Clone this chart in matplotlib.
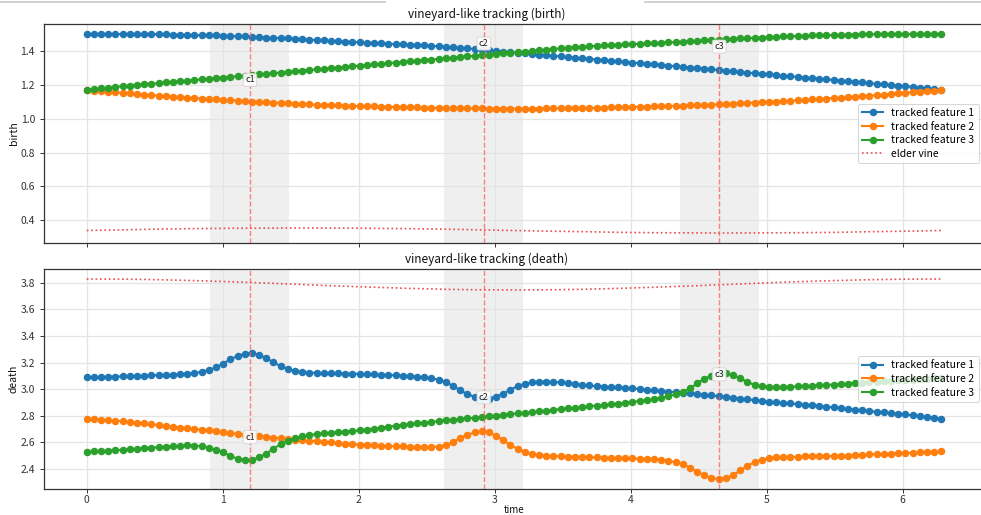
import numpy as np
import matplotlib
matplotlib.use("Agg")
import matplotlib.pyplot as plt
from matplotlib.lines import Line2D

plt.rcParams['font.family'] = ['Noto Sans CJK JP', 'DejaVu Sans']

# ---- data -------------------------------------------------------------
time = np.linspace(0, 2 * np.pi, 120)
elder_time = np.linspace(0, 2 * np.pi, 25)

birth_f1 = [1.500, 1.500, 1.500, 1.499, 1.499, 1.499, 1.499, 1.499, 1.498, 1.498,
            1.498, 1.497, 1.496, 1.495, 1.494, 1.493, 1.492, 1.492, 1.491, 1.490,
            1.488, 1.486, 1.485, 1.483, 1.481, 1.479, 1.477, 1.476, 1.474, 1.472,
            1.469, 1.467, 1.464, 1.462, 1.459, 1.457, 1.455, 1.452, 1.450, 1.448,
            1.446, 1.444, 1.442, 1.440, 1.438, 1.436, 1.435, 1.433, 1.430, 1.427,
            1.424, 1.421, 1.418, 1.415, 1.411, 1.407, 1.404, 1.400, 1.396, 1.392,
            1.388, 1.385, 1.381, 1.378, 1.374, 1.371, 1.367, 1.363, 1.360, 1.356,
            1.353, 1.349, 1.346, 1.342, 1.338, 1.335, 1.331, 1.328, 1.324, 1.320,
            1.317, 1.313, 1.310, 1.306, 1.302, 1.299, 1.295, 1.291, 1.287, 1.284,
            1.280, 1.276, 1.272, 1.268, 1.265, 1.261, 1.257, 1.254, 1.250, 1.247,
            1.243, 1.239, 1.236, 1.232, 1.229, 1.225, 1.221, 1.218, 1.214, 1.210,
            1.206, 1.203, 1.199, 1.195, 1.192, 1.187, 1.183, 1.179, 1.174, 1.170]

birth_f2 = [1.170, 1.166, 1.163, 1.159, 1.156, 1.152, 1.149, 1.146, 1.142, 1.139,
            1.136, 1.133, 1.130, 1.127, 1.124, 1.122, 1.119, 1.116, 1.114, 1.111,
            1.108, 1.106, 1.104, 1.101, 1.099, 1.097, 1.095, 1.093, 1.091, 1.089,
            1.087, 1.085, 1.083, 1.082, 1.080, 1.079, 1.077, 1.076, 1.074, 1.073,
            1.072, 1.071, 1.070, 1.068, 1.067, 1.067, 1.066, 1.065, 1.064, 1.063,
            1.063, 1.062, 1.062, 1.061, 1.061, 1.061, 1.060, 1.060, 1.060, 1.060,
            1.060, 1.060, 1.060, 1.060, 1.061, 1.061, 1.061, 1.062, 1.062, 1.063,
            1.063, 1.064, 1.065, 1.066, 1.067, 1.067, 1.068, 1.070, 1.071, 1.072,
            1.073, 1.074, 1.076, 1.077, 1.079, 1.080, 1.082, 1.083, 1.085, 1.087,
            1.089, 1.091, 1.093, 1.095, 1.097, 1.099, 1.101, 1.104, 1.106, 1.108,
            1.111, 1.114, 1.116, 1.119, 1.122, 1.124, 1.127, 1.130, 1.133, 1.136,
            1.139, 1.142, 1.146, 1.149, 1.152, 1.156, 1.159, 1.163, 1.166, 1.170]

birth_f3 = [1.170, 1.174, 1.179, 1.183, 1.187, 1.192, 1.195, 1.199, 1.203, 1.206,
            1.210, 1.214, 1.218, 1.221, 1.225, 1.229, 1.232, 1.236, 1.239, 1.243,
            1.247, 1.250, 1.254, 1.257, 1.261, 1.265, 1.268, 1.272, 1.276, 1.280,
            1.284, 1.287, 1.291, 1.295, 1.299, 1.302, 1.306, 1.310, 1.313, 1.317,
            1.320, 1.324, 1.328, 1.331, 1.335, 1.338, 1.342, 1.346, 1.349, 1.353,
            1.356, 1.360, 1.363, 1.367, 1.371, 1.374, 1.378, 1.381, 1.385, 1.388,
            1.392, 1.396, 1.400, 1.404, 1.407, 1.411, 1.415, 1.418, 1.421, 1.424,
            1.427, 1.430, 1.433, 1.435, 1.436, 1.438, 1.440, 1.442, 1.444, 1.446,
            1.448, 1.450, 1.452, 1.455, 1.457, 1.459, 1.462, 1.464, 1.467, 1.469,
            1.472, 1.474, 1.476, 1.477, 1.479, 1.481, 1.483, 1.485, 1.486, 1.488,
            1.490, 1.491, 1.492, 1.492, 1.493, 1.494, 1.495, 1.496, 1.497, 1.498,
            1.498, 1.498, 1.499, 1.499, 1.499, 1.499, 1.499, 1.500, 1.500, 1.500]

birth_elder = [0.340, 0.344, 0.348, 0.351, 0.353, 0.354, 0.355, 0.354, 0.353,
               0.351, 0.348, 0.344, 0.340, 0.336, 0.333, 0.329, 0.327, 0.326,
               0.325, 0.326, 0.327, 0.329, 0.333, 0.336, 0.340]

death_f1 = [3.090, 3.091, 3.092, 3.094, 3.095, 3.096, 3.098, 3.100, 3.101, 3.103,
            3.105, 3.107, 3.110, 3.112, 3.116, 3.120, 3.131, 3.144, 3.163, 3.192,
            3.225, 3.249, 3.267, 3.273, 3.258, 3.233, 3.201, 3.173, 3.152, 3.137,
            3.129, 3.125, 3.122, 3.121, 3.119, 3.118, 3.117, 3.116, 3.115, 3.113,
            3.111, 3.109, 3.107, 3.104, 3.101, 3.098, 3.094, 3.089, 3.082, 3.071,
            3.054, 3.024, 2.992, 2.963, 2.943, 2.930, 2.930, 2.944, 2.967, 2.997,
            3.022, 3.040, 3.051, 3.056, 3.057, 3.055, 3.051, 3.045, 3.039, 3.033,
            3.028, 3.022, 3.019, 3.016, 3.013, 3.010, 3.007, 3.001, 2.995, 2.991,
            2.986, 2.982, 2.978, 2.974, 2.968, 2.963, 2.958, 2.953, 2.947, 2.942,
            2.936, 2.930, 2.924, 2.918, 2.912, 2.907, 2.901, 2.897, 2.893, 2.889,
            2.884, 2.881, 2.875, 2.869, 2.863, 2.858, 2.852, 2.847, 2.842, 2.836,
            2.831, 2.826, 2.821, 2.816, 2.811, 2.804, 2.798, 2.791, 2.785, 2.778]

death_f2 = [2.778, 2.774, 2.771, 2.767, 2.764, 2.760, 2.754, 2.748, 2.743, 2.737,
            2.731, 2.725, 2.718, 2.712, 2.707, 2.701, 2.696, 2.690, 2.684, 2.676,
            2.670, 2.665, 2.659, 2.654, 2.648, 2.642, 2.637, 2.632, 2.627, 2.622,
            2.618, 2.613, 2.609, 2.605, 2.600, 2.596, 2.592, 2.588, 2.584, 2.581,
            2.579, 2.576, 2.574, 2.572, 2.570, 2.568, 2.566, 2.565, 2.565, 2.569,
            2.580, 2.602, 2.633, 2.657, 2.675, 2.683, 2.675, 2.652, 2.617, 2.583,
            2.551, 2.530, 2.512, 2.505, 2.500, 2.498, 2.496, 2.494, 2.493, 2.491,
            2.489, 2.488, 2.486, 2.485, 2.483, 2.482, 2.480, 2.479, 2.477, 2.474,
            2.471, 2.464, 2.452, 2.436, 2.412, 2.381, 2.353, 2.334, 2.326, 2.332,
            2.354, 2.390, 2.425, 2.452, 2.470, 2.480, 2.488, 2.491, 2.492, 2.493,
            2.495, 2.496, 2.496, 2.497, 2.498, 2.500, 2.502, 2.504, 2.507, 2.510,
            2.512, 2.515, 2.517, 2.520, 2.522, 2.524, 2.526, 2.528, 2.531, 2.533]

death_f3 = [2.530, 2.533, 2.536, 2.539, 2.542, 2.546, 2.549, 2.553, 2.557, 2.561,
            2.564, 2.569, 2.572, 2.576, 2.579, 2.577, 2.572, 2.562, 2.546, 2.528,
            2.498, 2.479, 2.471, 2.471, 2.489, 2.515, 2.554, 2.586, 2.613, 2.632,
            2.646, 2.655, 2.663, 2.669, 2.673, 2.678, 2.682, 2.686, 2.691, 2.697,
            2.705, 2.712, 2.719, 2.726, 2.733, 2.739, 2.744, 2.749, 2.755, 2.760,
            2.766, 2.771, 2.776, 2.782, 2.786, 2.791, 2.797, 2.802, 2.807, 2.813,
            2.818, 2.823, 2.828, 2.834, 2.839, 2.845, 2.850, 2.856, 2.861, 2.866,
            2.872, 2.877, 2.882, 2.887, 2.892, 2.899, 2.905, 2.911, 2.917, 2.926,
            2.936, 2.947, 2.961, 2.979, 3.006, 3.043, 3.078, 3.101, 3.115, 3.118,
            3.106, 3.081, 3.054, 3.032, 3.021, 3.016, 3.015, 3.016, 3.018, 3.021,
            3.023, 3.026, 3.029, 3.032, 3.035, 3.039, 3.042, 3.046, 3.050, 3.054,
            3.057, 3.060, 3.063, 3.066, 3.069, 3.072, 3.075, 3.079, 3.082, 3.085]

death_elder = [3.827, 3.826, 3.822, 3.815, 3.807, 3.797, 3.786, 3.775, 3.766,
               3.757, 3.750, 3.746, 3.745, 3.746, 3.750, 3.757, 3.766, 3.775,
               3.786, 3.797, 3.807, 3.815, 3.822, 3.826, 3.827]

feature_names = ["tracked feature 1", "tracked feature 2", "tracked feature 3"]
crossing_names = ["c1", "c2", "c3"]
crossing_times = [1.20, 2.92, 4.65]
crossing_halfwidth = 0.29
birth_label_y = [1.229, 1.443, 1.426]
death_label_y = [2.640, 2.939, 3.111]

# ---- figure -------------------------------------------------------------
W, H = 981, 515
fig = plt.figure(figsize=(W / 100, H / 100), dpi=100)
ax_b = fig.add_axes([44 / W, 272 / H, 940 / W, 219 / H])
ax_d = fig.add_axes([44 / W, 26 / H, 940 / W, 220 / H], sharex=ax_b)

# thin rule across the top of the page
fig.add_artist(Line2D([0, 385 / W], [1 - 2 / H, 1 - 2 / H], color="#c8c8c8", lw=1.2))
fig.add_artist(Line2D([645 / W, 1], [1 - 2 / H, 1 - 2 / H], color="#c8c8c8", lw=1.2))

colors = ["#1f77b4", "#ff7f0e", "#2ca02c"]
label_font = 7.5


def draw_panel(ax, series, elder, label_y, title, ylabel, elder_label):
    for c in crossing_times:
        ax.axvspan(c - crossing_halfwidth, c + crossing_halfwidth,
                   color="#9a9a9a", alpha=0.15, lw=0, zorder=0)
    for vals, name, col in zip(series, feature_names, colors):
        ax.plot(time, vals, "-o", color=col, lw=1.5, ms=4.4, label=name, zorder=3)
    ax.plot(elder_time, elder, ":", color="#e8393a", lw=1.2, alpha=0.9,
            label=elder_label, zorder=2)
    for c, name, yv in zip(crossing_times, crossing_names, label_y):
        ax.axvline(c, color="#ff5a5a", ls="--", lw=1.0, alpha=0.75, zorder=4)
        ax.text(c, yv, name, ha="center", va="center", fontsize=6.5, color="#222222",
                zorder=6,
                bbox=dict(boxstyle="round,pad=0.22", fc="white", ec="#cfcfcf",
                          lw=0.6, alpha=0.9))
    ax.grid(True, color="#e4e4e4", lw=0.9)
    ax.set_axisbelow(True)
    ax.set_title(title, fontsize=8.5, x=0.471, pad=4, color="#111111")
    ax.set_ylabel(ylabel, fontsize=label_font, color="#111111", labelpad=1)
    ax.tick_params(labelsize=label_font, colors="#333333", length=3, width=0.7)
    ax.tick_params(axis="x", pad=1.5)
    for s in ax.spines.values():
        s.set_color("#333333")
        s.set_linewidth(0.9)
    leg = ax.legend(loc="center right", fontsize=label_font, framealpha=0.8,
                    edgecolor="#cccccc", handlelength=2.0, borderpad=0.4,
                    labelspacing=0.35)
    leg.get_frame().set_linewidth(0.7)


draw_panel(ax_b, [birth_f1, birth_f2, birth_f3], birth_elder, birth_label_y,
           "vineyard-like tracking (birth)", "birth", "elder vine")
draw_panel(ax_d, [death_f1, death_f2, death_f3], death_elder, death_label_y,
           "vineyard-like tracking (death)", "death", "_nolegend_")

plt.setp(ax_b.get_xticklabels(), visible=False)
ax_d.set_xlabel("time", fontsize=7, color="#111111", labelpad=0)

fig.savefig("out.png", dpi=100)
